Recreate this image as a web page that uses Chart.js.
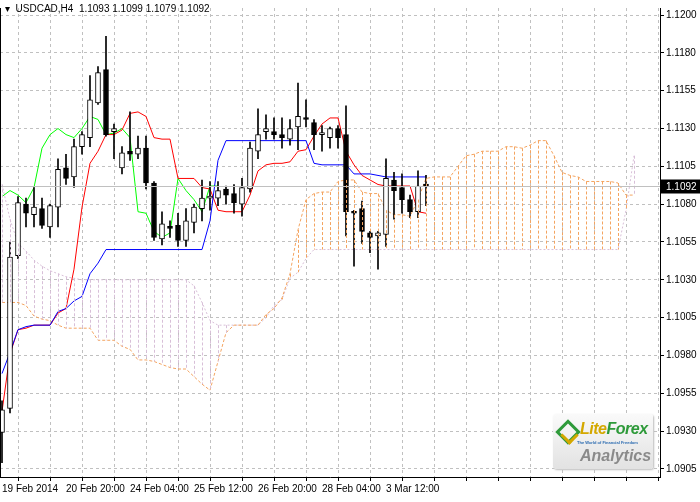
<!DOCTYPE html>
<html><head><meta charset="utf-8">
<script src="https://cdn.jsdelivr.net/npm/chart.js@4.4.1/dist/chart.umd.min.js"></script>
<style>
html,body{margin:0;padding:0;background:#fff;overflow:hidden}
#wrap{position:relative;width:700px;height:502px}
#title{position:absolute;left:5px;top:3px;font:10px "Liberation Sans",Arial,sans-serif;color:#000;white-space:pre}
#logo{position:absolute;left:553px;top:414px;width:100px;height:55px;border-radius:3px;
background:linear-gradient(#fafafa,#e2e2e2);box-shadow:1px 1px 2px #bbb;font-family:"Liberation Sans",Arial,sans-serif}
#logo .lf{position:absolute;left:27px;top:6px;font:italic bold 16px "Liberation Sans",Arial;color:#2e9a3a;letter-spacing:-0.5px}
#logo .lf span{color:#d4a800}
#logo .tw{position:absolute;left:24px;top:26px;font:bold 4px Arial;color:#2a6ab0;white-space:nowrap}
#logo .an{position:absolute;left:27px;top:33px;font:italic bold 16px "Liberation Sans",Arial;color:#8a8a8a}
#logo .i1{position:absolute;left:6px;top:9px;width:12px;height:12px;border:3px solid #2e9a3a;transform:rotate(45deg)}
#logo .i2{position:absolute;left:10px;top:15px;width:10px;height:10px;border:3px solid #d4a800;border-top:none;border-left:none;transform:rotate(45deg)}
</style></head>
<body><div id="wrap"><canvas id="c" width="700" height="502"></canvas>
<div id="title">▾  USDCAD,H4  1.1093 1.1099 1.1079 1.1092</div>
<div id="logo"><div class="i1"></div><div class="i2"></div><div class="lf"><span>Lite</span>Forex</div><div class="tw">The World of Financial Freedom</div><div class="an">Analytics</div></div>
</div>
<script>
const opens=[1.0929,1.0945,1.1046,1.1080,1.1073,1.1077,1.1065,1.1078,1.1104,1.1098,1.1118,1.1124,1.1147,1.1169,1.1128,1.1104,1.1115,1.1113,1.1117,1.1094,1.1057,1.1065,1.1066,1.1056,1.1068,1.1077,1.1084,1.1084,1.1090,1.1087,1.1080,1.1090,1.1115,1.1128,1.1128,1.1126,1.1123,1.1131,1.1137,1.1134,1.1126,1.1124,1.1130,1.1126,1.1075,1.1077,1.1061,1.1059,1.1060,1.1096,1.1091,1.1083,1.1075,1.1093];
const highs=[1.0950,1.1055,1.1085,1.1084,1.1091,1.1084,1.1080,1.1110,1.1113,1.1123,1.1128,1.1165,1.1171,1.1191,1.1133,1.1118,1.1141,1.1125,1.1125,1.1095,1.1075,1.1069,1.1074,1.1077,1.1080,1.1096,1.1095,1.1095,1.1092,1.1093,1.1097,1.1121,1.1143,1.1139,1.1137,1.1137,1.1136,1.1160,1.1149,1.1136,1.1132,1.1131,1.1132,1.1145,1.1076,1.1082,1.1062,1.1062,1.1110,1.1101,1.1100,1.1086,1.1102,1.1099];
const lows=[1.0909,1.0942,1.1044,1.1065,1.1065,1.1064,1.1058,1.1065,1.1093,1.1091,1.1113,1.1118,1.1146,1.1125,1.1110,1.1100,1.1109,1.1110,1.1090,1.1056,1.1053,1.1058,1.1052,1.1052,1.1061,1.1069,1.1076,1.1079,1.1080,1.1074,1.1072,1.1088,1.1110,1.1123,1.1123,1.1117,1.1119,1.1116,1.1131,1.1116,1.1115,1.1117,1.1117,1.1059,1.1039,1.1054,1.1048,1.1037,1.1052,1.1070,1.1074,1.1071,1.1071,1.1079];
const closes=[1.0944,1.1045,1.1081,1.1074,1.1078,1.1066,1.1079,1.1103,1.1097,1.1118,1.1126,1.1149,1.1167,1.1126,1.1130,1.1114,1.1113,1.1117,1.1094,1.1058,1.1067,1.1064,1.1056,1.1069,1.1078,1.1084,1.1085,1.1089,1.1086,1.1081,1.1091,1.1117,1.1126,1.1130,1.1126,1.1124,1.1130,1.1138,1.1136,1.1126,1.1127,1.1130,1.1124,1.1075,1.1074,1.1062,1.1058,1.1061,1.1097,1.1089,1.1083,1.1075,1.1092,1.1092];
const tenkan=[1.0943,1.0981,1.0997,1.0998,1.1000,1.1000,1.1000,1.1008,1.1011,1.1037,1.1078,1.1107,1.1115,1.1126,1.1126,1.1129,1.1140,1.1141,1.1138,1.1124,1.1123,1.1123,1.1097,1.1097,1.1097,1.1091,1.1090,1.1076,1.1075,1.1075,1.1075,1.1086,1.1102,1.1106,1.1107,1.1107,1.1108,1.1115,1.1116,1.1125,1.1133,1.1137,1.1137,1.1115,1.1106,1.1099,1.1096,1.1093,1.1092,1.1092,1.1092,1.1092,1.1075,1.1074];
const kijun=[1.0968,1.0982,1.0997,1.0999,1.1000,1.1000,1.1000,1.1009,1.1011,1.1016,1.1019,1.1034,1.1041,1.1050,1.1050,1.1050,1.1050,1.1050,1.1050,1.1050,1.1050,1.1050,1.1050,1.1050,1.1050,1.1050,1.1069,1.1109,1.1122,1.1122,1.1122,1.1122,1.1122,1.1122,1.1122,1.1122,1.1122,1.1122,1.1122,1.1107,1.1106,1.1106,1.1106,1.1106,1.1100,1.1100,1.1100,1.1099,1.1098,1.1098,1.1098,1.1098,1.1098,1.1098];
const chikou=[1.1085,1.1089,1.1086,1.1081,1.1091,1.1117,1.1126,1.1130,1.1126,1.1124,1.1130,1.1138,1.1136,1.1126,1.1127,1.1130,1.1124,1.1075,1.1074,1.1062,1.1058,1.1061,1.1097,1.1089,1.1083,1.1075,1.1092,1.1092];
const senkouA=[1.1015,1.1015,1.1015,1.1013,1.1006,1.1004,1.1003,1.1000,1.0998,1.0998,1.0998,1.0998,1.0990,1.0990,1.0990,1.0986,1.0984,1.0977,1.0977,1.0976,1.0974,1.0972,1.0971,1.0971,1.0966,1.0961,1.0957,1.0976,1.0995,1.1000,1.1000,1.1000,1.1000,1.1007,1.1011,1.1018,1.1034,1.1063,1.1083,1.1087,1.1088,1.1088,1.1095,1.1096,1.1096,1.1088,1.1087,1.1087,1.1076,1.1073,1.1073,1.1072,1.1083,1.1097,1.1098,1.1098,1.1098,1.1105,1.1112,1.1113,1.1115,1.1115,1.1115,1.1118,1.1118,1.1117,1.1119,1.1122,1.1122,1.1112,1.1101,1.1099,1.1098,1.1095,1.1095,1.1095,1.1095,1.1094,1.1086,1.1086];
const senkouB=[1.1093,1.1070,1.1054,1.1049,1.1043,1.1039,1.1036,1.1034,1.1032,1.1031,1.1030,1.1030,1.1030,1.1030,1.1030,1.1030,1.1030,1.1030,1.1030,1.1030,1.1030,1.1030,1.1030,1.1030,1.1026,1.1015,1.1003,1.1000,1.1000,1.1000,1.1000,1.1000,1.1000,1.1005,1.1013,1.1017,1.1031,1.1035,1.1044,1.1050,1.1050,1.1050,1.1050,1.1050,1.1050,1.1050,1.1050,1.1050,1.1050,1.1050,1.1050,1.1050,1.1050,1.1050,1.1050,1.1050,1.1050,1.1050,1.1050,1.1050,1.1050,1.1050,1.1050,1.1050,1.1050,1.1050,1.1050,1.1050,1.1050,1.1050,1.1050,1.1050,1.1050,1.1050,1.1050,1.1050,1.1050,1.1050,1.1076,1.1112];
const dateLabels=['19 Feb 2014','20 Feb 20:00','24 Feb 04:00','25 Feb 12:00','26 Feb 20:00','28 Feb 04:00','3 Mar 12:00'];
const yTickValues=[1.1205,1.1180,1.1155,1.1130,1.1105,1.1080,1.1055,1.1030,1.1005,1.0980,1.0955,1.0930,1.0905];
const yTickLabels=['1.1200','1.1180','1.1155','1.1130','1.1105','1.1080','1.1055','1.1030','1.1005','1.0980','1.0955','1.0930','1.0905'];
const lastPrice=1.1092;

const pts=a=>a.map((v,i)=>({x:i,y:v}));
const FONT={family:'"Liberation Sans", Arial, sans-serif',size:10};

const hatch={id:'hatch',afterDatasetsDraw(ch){
  const {ctx,scales:{x,y},chartArea:a}=ch;
  ctx.save();ctx.beginPath();ctx.rect(a.left,a.top,a.right-a.left,a.bottom-a.top);ctx.clip();
  ctx.lineWidth=1;ctx.setLineDash([3,2]);
  senkouA.forEach((va,i)=>{const vb=senkouB[i];
    const px=Math.round(x.getPixelForValue(i))+0.5;
    ctx.strokeStyle= va>=vb ? '#f4a460' : '#d8bfd8';
    ctx.beginPath();ctx.moveTo(px,y.getPixelForValue(Math.max(va,vb)));ctx.lineTo(px,y.getPixelForValue(Math.min(va,vb)));ctx.stroke();});
  ctx.setLineDash([]);
  const py=Math.round(y.getPixelForValue(lastPrice))+0.5;
  ctx.strokeStyle='#c0c0c0';ctx.beginPath();ctx.moveTo(a.left,py);ctx.lineTo(a.right,py);ctx.stroke();
  ctx.restore();
  ctx.save();
  ctx.strokeStyle='#000';ctx.beginPath();ctx.moveTo(0.5,a.top);ctx.lineTo(0.5,a.bottom);ctx.stroke();
  ctx.fillStyle='#000';ctx.fillRect(a.right+1,py-7,39,14);
  ctx.fillStyle='#fff';ctx.font='10px "Liberation Sans", Arial';ctx.textBaseline='middle';
  ctx.fillText(lastPrice.toFixed(4),a.right+6,py+0.5);
  ctx.restore();
}};

new Chart(document.getElementById('c'),{
  type:'bar',
  data:{datasets:[
    {type:'line',data:pts(senkouA),borderColor:'#f4a460',borderWidth:1,borderDash:[3,2],pointRadius:0,order:5},
    {type:'line',data:pts(senkouB),borderColor:'#d8bfd8',borderWidth:1,borderDash:[2,2],pointRadius:0,order:5},
    {type:'line',data:pts(kijun),borderColor:'#0000ff',borderWidth:1,pointRadius:0,order:4},
    {type:'line',data:pts(tenkan),borderColor:'#ff0000',borderWidth:1,pointRadius:0,order:4},
    {type:'line',data:pts(chikou),borderColor:'#00ff00',borderWidth:1,pointRadius:0,order:4},
    {type:'bar',data:highs.map((h,i)=>({x:i,y:[lows[i],h]})),backgroundColor:'#000',barThickness:1,grouped:false,order:2},
    {type:'bar',data:opens.map((o,i)=>({x:i,y:[Math.min(o,closes[i]),Math.max(o,closes[i])]})),
     backgroundColor:opens.map((o,i)=>closes[i]>=o?'#fff':'#000'),borderColor:'#000',borderWidth:1,borderSkipped:false,
     barThickness:5,minBarLength:2,grouped:false,order:1}
  ]},
  options:{responsive:false,animation:false,devicePixelRatio:1,
    layout:{padding:0},
    plugins:{legend:{display:false},tooltip:{enabled:false}},
    scales:{
      x:{type:'linear',min:-0.25,max:82.25,offset:false,
        afterBuildTicks(s){s.ticks=[];for(let v=0;v<=80;v+=4)s.ticks.push({value:v});},
        afterFit(s){s.height=25;},
        grid:{color:'#c0c0c0',tickColor:'#000',tickLength:4,tickBorderDash:[]},
        border:{color:'#000',dash:[3,3]},
        ticks:{align:'start',maxRotation:0,autoSkip:false,color:'#000',font:FONT,padding:2,
          callback:v=>(v%8===0 && v/8<dateLabels.length)?dateLabels[v/8]:''}},
      y:{position:'right',min:1.08996,max:1.12097,
        afterBuildTicks(s){s.ticks=yTickValues.map(v=>({value:v}));},
        afterFit(s){s.width=40;},
        grid:{color:'#c0c0c0',tickColor:'#000',tickLength:4,tickBorderDash:[]},
        border:{color:'#000',dash:[3,3]},
        ticks:{color:'#000',font:FONT,padding:2,callback:(v,i)=>yTickLabels[i]}}
    }},
  plugins:[hatch]
});
</script></body></html>
